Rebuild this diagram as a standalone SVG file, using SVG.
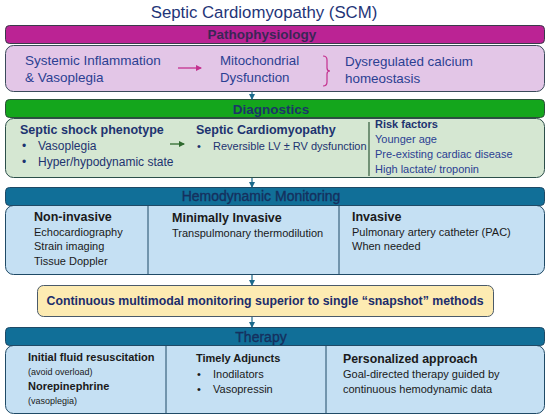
<svg xmlns="http://www.w3.org/2000/svg" width="550" height="419" viewBox="0 0 550 419">
<defs>
<style>
text{font-family:"Liberation Sans",Arial,sans-serif;}
.title{font-size:16.8px;fill:#1f3578;}
.hdr{font-size:13.5px;font-weight:bold;text-anchor:middle;}
.hdr2{font-size:14px;text-anchor:middle;fill:#15305e;stroke:#15305e;stroke-width:0.35;}
.b{font-weight:bold;}
.blue{fill:#2b3f92;}
.navy{fill:#1d3370;}
.dark{fill:#1a1a1a;}
.conn{stroke:#1c6a8c;stroke-width:1.2;fill:none;}
</style>
<marker id="ah" viewBox="0 0 6 6" refX="5" refY="3" markerWidth="5" markerHeight="5" orient="auto"><path d="M0,0 L6,3 L0,6 z" fill="#1c6a8c"/></marker>
<marker id="ahm" viewBox="0 0 6 6" refX="5" refY="3" markerWidth="5" markerHeight="5" orient="auto"><path d="M0,0 L6,3 L0,6 z" fill="#c4308f"/></marker>
<marker id="ahg" viewBox="0 0 6 6" refX="5" refY="3" markerWidth="5" markerHeight="5" orient="auto"><path d="M0,0 L6,3 L0,6 z" fill="#2f6a2f"/></marker>
</defs>
<rect width="550" height="419" fill="#ffffff"/>
<text class="title" x="264" y="18" text-anchor="middle">Septic Cardiomyopathy (SCM)</text>

<g id="pathophysiology">
<rect x="5.5" y="45.5" width="539" height="46" rx="8" fill="#e3c6e7" stroke="#3a4a5a" stroke-width="1"/>
<rect x="5.5" y="25.5" width="539" height="18" rx="4" fill="#bb2394" stroke="#3a3a4a" stroke-width="1"/>
<text class="hdr" x="262" y="39" fill="#3a2656">Pathophysiology</text>
<text class="blue" x="25" y="65" font-size="13.5">Systemic Inflammation</text>
<text class="blue" x="25" y="82" font-size="13.5">&amp; Vasoplegia</text>
<line x1="178" y1="68" x2="201" y2="68" stroke="#c4308f" stroke-width="1.3" marker-end="url(#ahm)"/>
<text class="blue" x="220" y="65" font-size="13.3">Mitochondrial</text>
<text class="blue" x="220" y="82" font-size="13.3">Dysfunction</text>
<path d="M323,56 Q327,56 327,60 L327,68 Q327,71 330,71 Q327,71 327,74 L327,82 Q327,86 323,86" fill="none" stroke="#c4308f" stroke-width="1.2"/>
<text class="blue" x="345" y="66" font-size="13.4">Dysregulated calcium</text>
<text class="blue" x="345" y="83" font-size="13.4">homeostasis</text>
</g>

<g id="diagnostics">
<rect x="5.5" y="118.5" width="539" height="59" rx="8" fill="#d5e7d2" stroke="#2c4f4a" stroke-width="1"/>
<rect x="5.5" y="99.5" width="539" height="18" rx="4" fill="#14a61c" stroke="#2c4f3a" stroke-width="1"/>
<text class="hdr" x="271" y="114" fill="#1c3468">Diagnostics</text>
<text class="navy b" x="20" y="134" font-size="12.5">Septic shock phenotype</text>
<text class="navy" x="22" y="150" font-size="12">•</text>
<text class="navy" x="38" y="150" font-size="12">Vasoplegia</text>
<text class="navy" x="22" y="166" font-size="12">•</text>
<text class="navy" x="38" y="166" font-size="12">Hyper/hypodynamic state</text>
<line x1="170" y1="144" x2="184" y2="144" stroke="#2f6a2f" stroke-width="1.3" marker-end="url(#ahg)"/>
<text class="navy b" x="196" y="134" font-size="12.5">Septic Cardiomyopathy</text>
<text class="navy" x="197" y="150" font-size="11">•</text>
<text class="navy" x="213" y="150" font-size="11">Reversible LV ± RV dysfunction</text>
<line x1="369" y1="122" x2="369" y2="176" stroke="#2f5a3a" stroke-width="1.2"/>
<text class="navy b" x="375" y="128" font-size="11">Risk factors</text>
<text class="blue" x="375" y="143" font-size="11">Younger age</text>
<text class="blue" x="375" y="158" font-size="11">Pre-existing cardiac disease</text>
<text class="blue" x="375" y="173" font-size="11">High lactate/ troponin</text>
</g>

<g id="monitoring">
<rect x="5.5" y="205.5" width="539" height="69" rx="8" fill="#c5e0f3" stroke="#1f4a66" stroke-width="1"/>
<rect x="5.5" y="187.5" width="539" height="18" rx="4" fill="#116f98" stroke="#1f4a66" stroke-width="1"/>
<text class="hdr2" x="261" y="201">Hemodynamic Monitoring</text>
<line x1="148" y1="206" x2="148" y2="274" stroke="#1f4a66" stroke-width="1"/>
<line x1="339" y1="206" x2="339" y2="274" stroke="#1f4a66" stroke-width="1"/>
<text class="dark b" x="34" y="221" font-size="12.5">Non-invasive</text>
<text class="dark" x="34" y="236" font-size="11">Echocardiography</text>
<text class="dark" x="34" y="250" font-size="11">Strain imaging</text>
<text class="dark" x="34" y="265" font-size="11">Tissue Doppler</text>
<text class="dark b" x="172" y="222" font-size="12.5">Minimally Invasive</text>
<text class="dark" x="172" y="237" font-size="11">Transpulmonary thermodilution</text>
<text class="dark b" x="352" y="221" font-size="12.5">Invasive</text>
<text class="dark" x="352" y="236" font-size="11">Pulmonary artery catheter (PAC)</text>
<text class="dark" x="352" y="250" font-size="11">When needed</text>
</g>

<g id="summary">
<rect x="37.5" y="285.5" width="456" height="31" rx="6" fill="#fdebb2" stroke="#4a5a6a" stroke-width="1"/>
<text class="b" x="265" y="305" font-size="12" text-anchor="middle" fill="#1b2d6b" textLength="437" lengthAdjust="spacingAndGlyphs">Continuous multimodal monitoring superior to single “snapshot” methods</text>
</g>

<g id="therapy">
<rect x="5.5" y="345.5" width="539" height="68" rx="8" fill="#c5e0f3" stroke="#1f4a66" stroke-width="1"/>
<rect x="5.5" y="327.5" width="539" height="18" rx="4" fill="#116f98" stroke="#1f4a66" stroke-width="1"/>
<text class="hdr2" x="261" y="342">Therapy</text>
<line x1="166" y1="346" x2="166" y2="413" stroke="#1f4a66" stroke-width="1"/>
<line x1="326" y1="346" x2="326" y2="413" stroke="#1f4a66" stroke-width="1"/>
<text class="dark b" x="28" y="361" font-size="11">Initial fluid resuscitation</text>
<text class="dark" x="28" y="375" font-size="9">(avoid overload)</text>
<text class="dark b" x="28" y="390" font-size="11">Norepinephrine</text>
<text class="dark" x="28" y="404" font-size="9">(vasoplegia)</text>
<text class="dark b" x="196" y="362" font-size="11">Timely Adjuncts</text>
<text class="dark" x="197" y="378" font-size="11">•</text>
<text class="dark" x="213" y="378" font-size="11">Inodilators</text>
<text class="dark" x="197" y="393" font-size="11">•</text>
<text class="dark" x="213" y="393" font-size="11">Vasopressin</text>
<text class="dark b" x="343" y="363" font-size="12.3">Personalized approach</text>
<text class="dark" x="343" y="378" font-size="11">Goal-directed therapy guided by</text>
<text class="dark" x="343" y="393" font-size="11">continuous hemodynamic data</text>
</g>

<g id="connectors">
<line class="conn" x1="252" y1="92" x2="252" y2="99" marker-end="url(#ah)"/>
<line class="conn" x1="252" y1="178" x2="252" y2="187" marker-end="url(#ah)"/>
<line class="conn" x1="252" y1="275" x2="252" y2="285" marker-end="url(#ah)"/>
<line class="conn" x1="252" y1="317" x2="252" y2="327" marker-end="url(#ah)"/>
</g>
</svg>
